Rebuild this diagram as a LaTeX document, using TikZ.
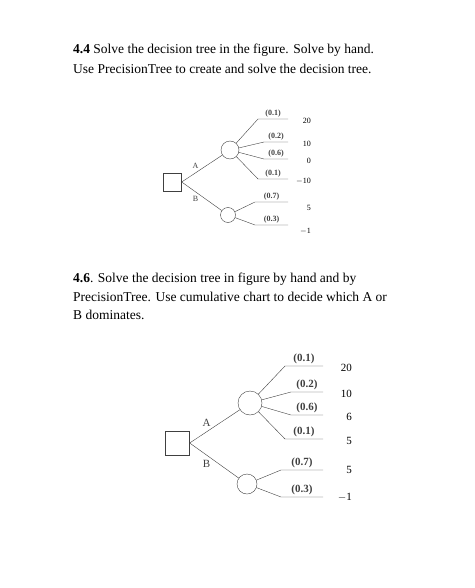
\documentclass[tikz,border=0pt]{standalone}
\usepackage{fontspec}
\setmainfont{Liberation Serif}
\usetikzlibrary{positioning}
\begin{document}
\begin{tikzpicture}[x=1pt,y=-1pt,
txt/.style={anchor=west, font=\fontsize{13.5}{16}\selectfont, inner sep=0pt},
dec/.style={draw=black!75, thin, minimum size=#1, inner sep=0pt},
chance/.style={circle, draw=black!75, thin, minimum size=#1, inner sep=0pt},
prob/.style={font=\bfseries\fontsize{#1}{#1}\selectfont, above, inner sep=1.5pt},
val/.style={font=\fontsize{#1}{#1}\selectfont, anchor=east, inner sep=0pt},
br/.style={font=\fontsize{#1}{#1}\selectfont, inner sep=0pt}
]
\useasboundingbox (0,0) rectangle (474,588);
%Text
\node[txt] (t1) at (73,50) {\textbf{4.4} Solve the decision tree in the figure. Solve by hand.};
\node[txt] (t2) at (73,69) {Use PrecisionTree to create and solve the decision tree.};
\node[txt] (t3) at (73,279) {\textbf{4.6}. Solve the decision tree in figure by hand and by};
\node[txt] (t4) at (73,297) {PrecisionTree. Use cumulative chart to decide which A or};
\node[txt] (t5) at (73,315) {B dominates.};
%Tree 4.4
\node[dec=18pt]    (d)  at (172.5,182) {};
\node[chance=18pt] (ca) at (230,150) {};
\node[chance=15pt] (cb) at (228,215) {};
\draw[black!75] (d.east) -- (ca) node[br=8, pos=0.45, above left=2pt] {A};
\draw[black!75] (d.east) -- (cb) node[br=8, pos=0.45, below left=2pt] {B};
\foreach \y/\k/\p/\v [count=\i] in {119/258/0.1/20, 142/264/0.2/10, 159/264/0.6/0, 179/258/0.1/{$-$10}}{
  \coordinate (ka\i) at (\k,\y);
  \coordinate (ea\i) at (288,\y);
  \draw[black!75] (ca) -- (ka\i) -- (ea\i) node[prob=8, midway] {(\p)};
  \node[val=8] (va\i) at (311,\y+2) {\v};
}
\foreach \y/\p/\v [count=\i] in {202/0.7/5, 225/0.3/{$-$1}}{
  \coordinate (kb\i) at (255,\y);
  \coordinate (eb\i) at (288,\y);
  \draw[black!75] (cb) -- (kb\i) -- (eb\i) node[prob=8, midway] {(\p)};
  \node[val=8] (vb\i) at (311,\y+6) {\v};
}
%Tree 4.6
\node[dec=24pt]    (d2)  at (177.5,443) {};
\node[chance=24pt] (ca2) at (250,403) {};
\node[chance=20pt] (cb2) at (247,484) {};
\draw[black!75] (d2.east) -- (ca2) node[br=11, pos=0.45, above left=2pt] {A};
\draw[black!75] (d2.east) -- (cb2) node[br=11, pos=0.45, below left=2pt] {B};
\foreach \y/\k/\p/\v [count=\i] in {366/285/0.1/20, 392/291/0.2/10, 415/291/0.6/6, 439/285/0.1/5}{
  \coordinate (kc\i) at (\k,\y);
  \coordinate (ec\i) at (323,\y);
  \draw[black!75] (ca2) -- (kc\i) -- (ec\i) node[prob=11, midway] {(\p)};
  \node[val=11] (vc\i) at (352,\y+2) {\v};
}
\foreach \y/\p/\v [count=\i] in {470/0.7/5, 497/0.3/{$-$1}}{
  \coordinate (kd\i) at (281,\y);
  \coordinate (ed\i) at (323,\y);
  \draw[black!75] (cb2) -- (kd\i) -- (ed\i) node[prob=11, midway] {(\p)};
  \node[val=11] (vd\i) at (352,\y) {\v};
}
\end{tikzpicture}
\end{document}
